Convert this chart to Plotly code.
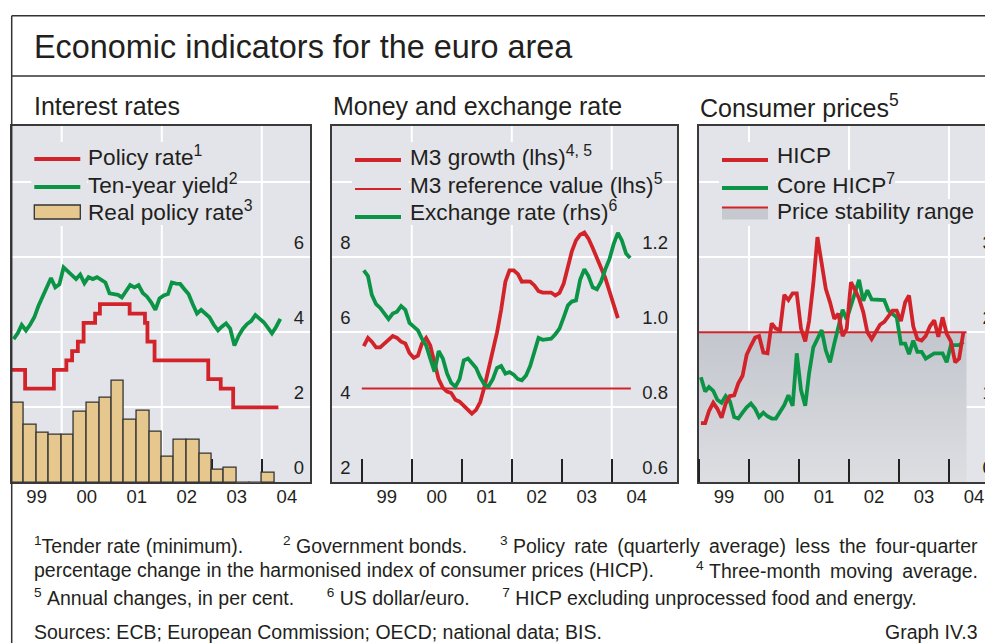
import pandas as pd
import plotly.graph_objects as go

W, H = 985, 643

# ---------------- data ----------------
year_labels = ["99", "00", "01", "02", "03", "04"]
year_starts = ["1999-01-01", "2000-01-01", "2001-01-01", "2002-01-01", "2003-01-01", "2004-01-01"]
year_mids = ["1999-07-02", "2000-07-02", "2001-07-02", "2002-07-02", "2003-07-02", "2004-07-02"]
grid_years = ["2000-01-01", "2002-01-01", "2004-01-01"]

# Interest rates panel
policy_dates = ["1999-01-01", "1999-04-09", "1999-11-05", "2000-02-04", "2000-03-17",
                "2000-04-28", "2000-06-09", "2000-09-01", "2000-10-06", "2001-05-11",
                "2001-08-31", "2001-09-18", "2001-11-09", "2002-12-06", "2003-03-07",
                "2003-06-06", "2004-05-01"]
policy_rate = [3.0, 2.5, 3.0, 3.25, 3.5, 3.75, 4.25, 4.5, 4.75, 4.5, 4.25, 3.75, 3.25,
               2.75, 2.5, 2.0, 2.0]

ten_year_start = "1999-01-01"
ten_year = [3.82, 3.98, 4.20, 4.05, 4.20, 4.40, 4.70, 4.95, 5.20, 5.45, 5.20, 5.28,
            5.73, 5.62, 5.50, 5.42, 5.54, 5.31, 5.47, 5.42, 5.47, 5.40, 5.33, 5.04,
            5.03, 5.00, 4.93, 5.10, 5.26, 5.20, 5.26, 5.05, 4.95, 4.80, 4.60, 4.90,
            4.98, 5.02, 5.33, 5.30, 5.29, 5.15, 5.02, 4.75, 4.50, 4.60, 4.50, 4.40,
            4.20, 4.05, 4.15, 4.24, 4.10, 3.65, 3.90, 4.09, 4.22, 4.30, 4.46, 4.35,
            4.27, 4.12, 3.97, 4.15, 4.36]

real_quarters = ["1999Q1", "1999Q2", "1999Q3", "1999Q4", "2000Q1", "2000Q2", "2000Q3",
                 "2000Q4", "2001Q1", "2001Q2", "2001Q3", "2001Q4", "2002Q1", "2002Q2",
                 "2002Q3", "2002Q4", "2003Q1", "2003Q2", "2003Q3", "2003Q4", "2004Q1"]
real_policy = [2.13, 1.54, 1.33, 1.27, 1.28, 1.89, 2.13, 2.25, 2.71, 1.68, 1.91, 1.35,
               0.67, 1.13, 1.13, 0.77, 0.33, 0.40, -0.03, -0.03, 0.25]

# Money and exchange rate panel
m3_start = "1999-01-01"
m3_growth = [5.63, 5.85, 5.75, 5.60, 5.60, 5.70, 5.80, 5.90, 5.85, 5.75, 5.70, 5.45,
             5.32, 5.38, 5.70, 5.85, 5.65, 5.20, 4.75, 4.52, 4.42, 4.38, 4.20, 4.15,
             4.05, 3.93, 3.83, 3.93, 4.14, 4.55, 5.00, 5.45, 6.00, 6.60, 7.35, 7.65,
             7.65, 7.55, 7.35, 7.36, 7.35, 7.25, 7.10, 7.06, 7.05, 7.06, 6.98, 7.05,
             7.30, 7.70, 8.15, 8.45, 8.60, 8.66, 8.50, 8.25, 8.00, 7.75, 7.45, 7.10,
             6.75, 6.38]
m3_ref_dates = ["1999-01-01", "2004-05-20"]
m3_ref = [4.5, 4.5]

fx_start = "1999-01-01"
exchange_rate = [1.165, 1.150, 1.100, 1.075, 1.065, 1.050, 1.035, 1.050, 1.055, 1.070, 1.060, 1.025,
                 1.014, 1.005, 0.983, 0.965, 0.930, 0.895, 0.950, 0.930, 0.890, 0.865, 0.855, 0.875,
                 0.925, 0.930, 0.918, 0.905, 0.880, 0.860, 0.856, 0.875, 0.905, 0.910, 0.890, 0.894,
                 0.887, 0.875, 0.872, 0.885, 0.910, 0.945, 0.985, 0.980, 0.981, 0.983, 0.995, 1.010,
                 1.040, 1.072, 1.082, 1.085, 1.140, 1.168, 1.150, 1.120, 1.115, 1.135, 1.168, 1.195,
                 1.235, 1.265, 1.245, 1.210, 1.198]

# Consumer prices panel
cpi_start = "1999-01-01"
hicp = [0.79, 0.79, 0.95, 1.06, 0.98, 0.86, 1.05, 1.15, 1.16, 1.32, 1.42, 1.70,
        1.82, 1.93, 1.95, 1.73, 1.72, 2.12, 2.05, 2.03, 2.50, 2.43, 2.52, 2.52,
        2.05, 1.88, 2.15, 2.65, 3.27, 2.95, 2.58, 2.40, 2.18, 2.25, 1.95, 2.05,
        2.67, 2.56, 2.45, 2.27, 2.00, 1.91, 2.00, 2.10, 2.14, 2.22, 2.29, 2.29,
        2.15, 2.40, 2.49, 2.08, 1.91, 1.89, 1.95, 2.08, 2.16, 1.94, 2.20, 1.98,
        1.88, 1.60, 1.65, 2.00]
core_hicp = [1.40, 1.21, 1.27, 1.22, 1.10, 1.06, 1.15, 1.08, 0.87, 0.85, 0.93, 1.00,
             1.05, 0.98, 0.87, 0.93, 0.88, 0.85, 0.85, 0.93, 1.03, 1.16, 1.02, 1.72,
             1.23, 1.02, 1.45, 1.80, 1.91, 2.03, 1.76, 1.60, 1.85, 2.10, 2.30, 2.17,
             2.35, 2.55, 2.70, 2.42, 2.56, 2.44, 2.44, 2.44, 2.43, 2.29, 2.25, 2.20,
             1.85, 1.85, 1.71, 1.89, 1.74, 1.74, 1.65, 1.68, 1.72, 1.72, 1.72, 1.60,
             1.83, 1.83, 1.83, 1.87]
range_dates = ["1999-01-01", "2004-05-08"]
range_upper = [2.0, 2.0]

# ---------------- styling ----------------
FONT = "Liberation Sans, Arial, sans-serif"
TXT = "#231f20"
BORDER = "#3a3a3a"
BG = "#e2e4e9"
RED = "#d2232a"
GREEN = "#0b9446"
TAN = "#e6c88e"
GRAYFILL = "#c6c9d0"


def px(x):
    return x / W


def py(y):
    return 1 - y / H


def monthly(start, n):
    return pd.date_range(start, periods=n, freq="MS") + pd.Timedelta(days=14)


fig = go.Figure()

# --- Interest rates ---
q = pd.PeriodIndex(real_quarters, freq="Q")
q_start = q.start_time
q_end = q.end_time
q_mid = q_start + (q_end - q_start) / 2
q_width = [(e - s).total_seconds() * 1000 for s, e in zip(q_start, q_end)]
fig.add_trace(go.Bar(x=q_mid, y=real_policy, width=q_width,
                     marker=dict(color=TAN, line=dict(color="#333333", width=1.3)),
                     xaxis="x", yaxis="y", showlegend=False))
fig.add_trace(go.Scatter(x=pd.to_datetime(policy_dates), y=policy_rate, mode="lines",
                         line=dict(color=RED, width=3.8, shape="hv"),
                         xaxis="x", yaxis="y", showlegend=False))
fig.add_trace(go.Scatter(x=monthly(ten_year_start, len(ten_year)), y=ten_year, mode="lines",
                         line=dict(color=GREEN, width=3.8), xaxis="x", yaxis="y", showlegend=False))

# --- Money and exchange rate ---
fig.add_trace(go.Scatter(x=pd.to_datetime(m3_ref_dates), y=m3_ref, mode="lines", line=dict(color=RED, width=2),
                         xaxis="x2", yaxis="y2", showlegend=False))
fig.add_trace(go.Scatter(x=monthly(fx_start, len(exchange_rate)), y=exchange_rate, mode="lines",
                         line=dict(color=GREEN, width=3.8), xaxis="x2", yaxis="y4", showlegend=False))
fig.add_trace(go.Scatter(x=monthly(m3_start, len(m3_growth)), y=m3_growth, mode="lines",
                         line=dict(color=RED, width=3.8), xaxis="x2", yaxis="y2", showlegend=False))

# --- Consumer prices ---
fig.add_trace(go.Scatter(x=pd.to_datetime(range_dates), y=range_upper, mode="lines", line=dict(color=RED, width=2),
                         fill="tozeroy",
                         fillgradient=dict(type="vertical", start=0, stop=2,
                                           colorscale=[[0, "#dcdee2"], [1, "#c3c6cd"]]),
                         xaxis="x3", yaxis="y3", showlegend=False))
fig.add_trace(go.Scatter(x=monthly(cpi_start, len(core_hicp)), y=core_hicp, mode="lines",
                         line=dict(color=GREEN, width=3.8), xaxis="x3", yaxis="y3", showlegend=False))
fig.add_trace(go.Scatter(x=monthly(cpi_start, len(hicp)), y=hicp, mode="lines",
                         line=dict(color=RED, width=3.8), xaxis="x3", yaxis="y3", showlegend=False))

# ---------------- axes ----------------
Y_DOM = [py(482.3), py(125.7)]
PANELS = {
    "x": ([px(11.7), px(310.3)], ["1999-01-01", "2004-12-20"], "y", "below traces"),
    "x2": ([px(332), px(677)], ["1998-05-28", "2005-04-22"], "y2", "above traces"),
    "x3": ([px(699), 1.0], ["1999-01-01", "2004-09-20"], "y3", "above traces"),
}
axes = {}
for name, (dom, rng, anc, layer) in PANELS.items():
    key = "xaxis" if name == "x" else "xaxis" + name[1:]
    axes[key] = dict(domain=dom, range=rng, type="date", anchor=anc, tickmode="array",
                     tickvals=year_mids, ticktext=year_labels, ticks="", showgrid=False,
                     showline=True, mirror=True, linecolor=BORDER, linewidth=2, zeroline=False,
                     automargin=False,
                     tickfont=dict(family=FONT, size=18.5, color=TXT), ticklabelstandoff=-4,
                     minor=dict(tickmode="array", tickvals=year_starts, ticks="inside", ticklen=23,
                                tickwidth=2, tickcolor="#222222", showgrid=False),
                     layer=layer)

common_y = dict(domain=Y_DOM, tickmode="array", showgrid=True, gridcolor="white", gridwidth=2,
                ticks="", ticklabelposition="inside", ticklabelshift=-15, ticklabeloverflow="allow",
                showline=True, mirror=True, linecolor=BORDER, linewidth=2, zeroline=False,
                automargin=False, tickfont=dict(family=FONT, size=18.5, color=TXT))
axes["yaxis"] = dict(common_y, range=[0, 9.51], anchor="x", side="right",
                     tickvals=[0, 2, 4, 6, 8], ticktext=["0", "2", "4", "6", ""], ticklabelstandoff=7)
axes["yaxis2"] = dict(common_y, range=[2, 11.51], anchor="x2", side="left",
                      tickvals=[2, 4, 6, 8, 10], ticktext=["2", "4", "6", "8", ""], ticklabelstandoff=9)
axes["yaxis4"] = dict(common_y, range=[0.6, 1.551], anchor="x2", side="right", overlaying="y2",
                      tickvals=[0.6, 0.8, 1.0, 1.2], ticktext=["0.6", "0.8", "1.0", "1.2"],
                      showgrid=False, showline=False, ticklabelstandoff=6)
axes["yaxis3"] = dict(common_y, range=[0, 4.755], anchor="x3", side="right",
                      tickvals=[0, 1, 2, 3, 4], ticktext=["0", "1", "2", "3", ""], ticklabelstandoff=-7)

fig.update_layout(**axes)

# ---------------- shapes: grid, frame, legends ----------------
shapes = []
for xref in ["x", "x2", "x3"]:
    yref = ("y" if xref == "x" else "y" + xref[1:]) + " domain"
    for g in grid_years:
        shapes.append(dict(type="line", xref=xref, yref=yref, x0=g, x1=g, y0=0, y1=1,
                           line=dict(color="white", width=2), layer="below"))

frame = dict(color="#333333", width=1.5)
shapes += [
    dict(type="line", xref="paper", yref="paper", x0=px(11.7), x1=px(995), y0=py(15.7), y1=py(15.7), line=frame),
    dict(type="line", xref="paper", yref="paper", x0=px(11.7), x1=px(995), y0=py(76), y1=py(76), line=frame),
    dict(type="line", xref="paper", yref="paper", x0=px(11.7), x1=px(11.7), y0=py(15.7), y1=py(660), line=frame),
]


def legend_block(x_sym, x_txt, rows):
    out_shapes = [dict(type="rect", xref="paper", yref="paper", x0=px(x_sym - 3), x1=px(x_txt + 2),
                       y0=py(142), y1=py(226), fillcolor=BG, line=dict(width=0), layer="above")]
    out_ann = []
    for kind, color, y_sym, y_txt, text in rows:
        if kind in ("line", "thin"):
            out_shapes.append(dict(type="line", xref="paper", yref="paper", x0=px(x_sym), x1=px(x_sym + 46),
                                   y0=py(y_sym), y1=py(y_sym),
                                   line=dict(color=color, width=4 if kind == "line" else 2), layer="above"))
        elif kind == "bar":
            out_shapes.append(dict(type="rect", xref="paper", yref="paper", x0=px(x_sym), x1=px(x_sym + 46),
                                   y0=py(y_sym + 7), y1=py(y_sym - 7), fillcolor=color,
                                   line=dict(color="#333333", width=1.3), layer="above"))
        elif kind == "range":
            out_shapes.append(dict(type="rect", xref="paper", yref="paper", x0=px(x_sym), x1=px(x_sym + 46),
                                   y0=py(y_sym + 12), y1=py(y_sym), fillcolor=GRAYFILL,
                                   line=dict(width=0), layer="above"))
            out_shapes.append(dict(type="line", xref="paper", yref="paper", x0=px(x_sym), x1=px(x_sym + 46),
                                   y0=py(y_sym), y1=py(y_sym), line=dict(color=color, width=2), layer="above"))
        out_ann.append(dict(xref="paper", yref="paper", x=px(x_txt + 3), y=py(y_txt), xanchor="left",
                            yanchor="middle", text=text, showarrow=False, bgcolor=BG, borderpad=0,
                            borderwidth=0, font=dict(family=FONT, size=22.6, color=TXT)))
    # draw the lower rows first so that descenders of upper rows stay visible
    return out_shapes, out_ann[::-1]


annotations = []
for block in [
    (34.3, 85, [("line", RED, 159, 156, "Policy rate<sup>1</sup>"),
                ("line", GREEN, 187, 183.5, "Ten-year yield<sup>2</sup>"),
                ("bar", TAN, 212, 211.5, "Real policy rate<sup>3</sup>")]),
    (355, 406.7, [("line", RED, 160, 155.5, "M3 growth (lhs)<sup>4, 5</sup>"),
                  ("thin", RED, 189, 183.5, "M3 reference value (lhs)<sup>5</sup>"),
                  ("line", GREEN, 217, 211.5, "Exchange rate (rhs)<sup>6</sup>")]),
    (722, 774, [("line", RED, 160, 155.5, "HICP"),
                ("line", GREEN, 188, 183.5, "Core HICP<sup>7</sup>"),
                ("range", RED, 207.5, 211.5, "Price stability range")]),
]:
    s, a = legend_block(*block)
    shapes += s
    annotations += a

# titles
annotations.append(dict(xref="paper", yref="paper", x=px(32), y=py(47.5), xanchor="left", yanchor="middle",
                        text="Economic indicators for the euro area", showarrow=False,
                        font=dict(family=FONT, size=32.4, color=TXT)))
for x0, t in [(32, "Interest rates"), (331, "Money and exchange rate"), (697.5, "Consumer prices<sup>5</sup>")]:
    annotations.append(dict(xref="paper", yref="paper", x=px(x0), y=py(105.5), xanchor="left", yanchor="middle",
                            text=t, showarrow=False, font=dict(family=FONT, size=25, color=TXT)))

NB = "\u00a0"
WS = " \u2009"          # slightly widened word space for the justified lines
GAP = NB * 6
foot = [
    (32, 545, "left", "<sup>1</sup>Tender rate (minimum)."),
    (281, 545, "left", "<sup>2</sup>" + NB + "Government bonds."),
    (980, 545, "right", "<sup>3</sup>" + NB + "Policy rate (quarterly average) less the four-quarter".replace(" ", WS)),
    (32, 570, "left", "percentage change in the harmonised index of consumer prices (HICP)."),
    (980, 570, "right", "<sup>4</sup>" + NB + "Three-month moving average.".replace(" ", WS)),
    (32, 597, "left", "<sup>5</sup>" + NB + "Annual changes, in per cent." + GAP + "<sup>6</sup>" + NB +
     "US dollar/euro." + GAP + "<sup>7</sup>" + NB + "HICP excluding unprocessed food and energy."),
    (32, 632, "left", "Sources: ECB; European Commission; OECD; national data; BIS."),
    (980, 632, "right", "Graph IV.3"),
]
for xx, yy, anchor, t in foot:
    annotations.append(dict(xref="paper", yref="paper", x=px(xx), y=py(yy), xanchor=anchor, yanchor="middle",
                            text=t, showarrow=False, font=dict(family=FONT, size=19.5, color=TXT)))

fig.update_layout(width=W, height=H, margin=dict(l=0, r=0, t=0, b=0, autoexpand=False),
                  paper_bgcolor="white", plot_bgcolor=BG, bargap=0, showlegend=False,
                  shapes=shapes, annotations=annotations, font=dict(family=FONT, color=TXT))

fig.write_html("out.html", config={"displayModeBar": False},
               post_script="document.body.style.margin='0px';")
